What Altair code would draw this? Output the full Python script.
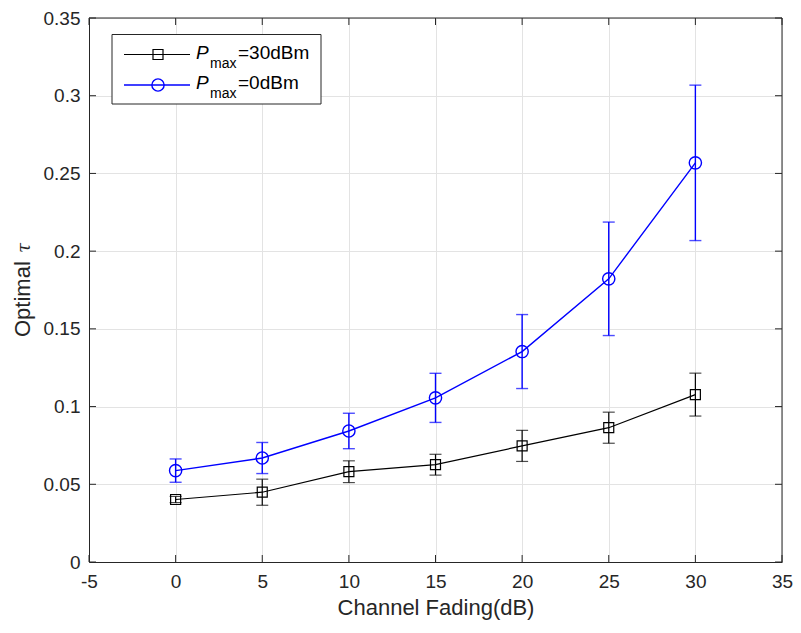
import altair as alt
import pandas as pd

# ---- data ----
fading_db = [0, 5, 10, 15, 20, 25, 30]
tau_30dbm = [0.0402, 0.0449, 0.0581, 0.0626, 0.0747, 0.0864, 0.1077]
err_30dbm = [0.002, 0.0084, 0.0070, 0.0067, 0.0100, 0.0100, 0.0138]
tau_0dbm = [0.0588, 0.0669, 0.0843, 0.1056, 0.1354, 0.1822, 0.2568]
err_0dbm = [0.0075, 0.0100, 0.0114, 0.0158, 0.0238, 0.0365, 0.0500]

x_ticks = [-5, 0, 5, 10, 15, 20, 25, 30, 35]
y_ticks = [0, 0.05, 0.1, 0.15, 0.2, 0.25, 0.3, 0.35]

W, H = 693, 544
FONT = "Liberation Sans"
AX = "#262626"

xs = alt.Scale(domain=[-5, 35], nice=False, zero=False)
ys = alt.Scale(domain=[0, 0.35], nice=False, zero=False)


def series_df(vals, errs):
    return pd.DataFrame({
        "x": fading_db,
        "y": vals,
        "lo": [v - e for v, e in zip(vals, errs)],
        "hi": [v + e for v, e in zip(vals, errs)],
    })


xaxis = alt.Axis(values=x_ticks, labelExpr="'' + datum.value", title="Channel Fading(dB)",
                 grid=True, gridColor="#e3e3e3", gridWidth=1, ticks=False, tickSize=0,
                 labelFlush=False,
                 domainColor=AX, domainWidth=1, labelColor=AX, labelFont=FONT, labelFontSize=19,
                 labelPadding=10, titleFont=FONT, titleFontSize=22, titleFontWeight="normal",
                 titleColor=AX, titlePadding=6)
yaxis = alt.Axis(values=y_ticks, format=".2~f", title=None,
                 grid=True, gridColor="#e3e3e3", gridWidth=1, ticks=False, tickSize=0,
                 domainColor=AX, domainWidth=1, labelColor=AX, labelFont=FONT, labelFontSize=19,
                 labelPadding=9)

layers = []

# frame top/right and inside ticks
tick_x_df = pd.DataFrame({"t": x_ticks})
tick_y_df = pd.DataFrame({"t": y_ticks})
base_x = alt.Chart(tick_x_df)
base_y = alt.Chart(tick_y_df)
layers.append(base_x.mark_rule(color=AX, strokeWidth=1).encode(
    x=alt.X("t:Q", scale=xs, axis=xaxis), y=alt.value(H), y2=alt.value(H - 7)))
layers.append(base_x.mark_rule(color=AX, strokeWidth=1).encode(
    x=alt.X("t:Q", scale=xs), y=alt.value(0), y2=alt.value(7)))
layers.append(base_y.mark_rule(color=AX, strokeWidth=1).encode(
    y=alt.Y("t:Q", scale=ys, axis=yaxis), x=alt.value(0), x2=alt.value(7)))
layers.append(base_y.mark_rule(color=AX, strokeWidth=1).encode(
    y=alt.Y("t:Q", scale=ys), x=alt.value(W), x2=alt.value(W - 7)))

one = pd.DataFrame({"a": [0]})
layers.append(alt.Chart(one).mark_rule(color=AX, strokeWidth=1).encode(
    x=alt.value(0), x2=alt.value(W), y=alt.value(0)))
layers.append(alt.Chart(one).mark_rule(color=AX, strokeWidth=1).encode(
    x=alt.value(W), y=alt.value(0), y2=alt.value(H)))

specs = [
    (series_df(tau_30dbm, err_30dbm), "#000000", "square", 100, 1.2),
    (series_df(tau_0dbm, err_0dbm), "#0000ff", "circle", 150, 1.4),
]
for df, col, shape, size, sw in specs:
    b = alt.Chart(df)
    layers.append(b.mark_rule(color=col, strokeWidth=sw).encode(
        x=alt.X("x:Q", scale=xs), y=alt.Y("lo:Q", scale=ys), y2="hi:Q"))
    layers.append(b.mark_tick(color=col, orient="horizontal", size=12, thickness=sw).encode(
        x=alt.X("x:Q", scale=xs), y=alt.Y("lo:Q", scale=ys)))
    layers.append(b.mark_tick(color=col, orient="horizontal", size=12, thickness=sw).encode(
        x=alt.X("x:Q", scale=xs), y=alt.Y("hi:Q", scale=ys)))
    layers.append(b.mark_line(color=col, strokeWidth=sw).encode(
        x=alt.X("x:Q", scale=xs), y=alt.Y("y:Q", scale=ys)))
    layers.append(b.mark_point(color=col, shape=shape, size=size, filled=False,
                               strokeWidth=sw, opacity=1).encode(
        x=alt.X("x:Q", scale=xs), y=alt.Y("y:Q", scale=ys)))

# legend
layers.append(alt.Chart(one).mark_rect(fill="white", stroke=AX, strokeWidth=1).encode(
    x=alt.value(23), x2=alt.value(232), y=alt.value(16.5), y2=alt.value(86)))
legend_rows = [
    ("#000000", "square", 100, 1.2, 36.5, "=30dBm"),
    ("#0000ff", "circle", 150, 1.4, 67, "=0dBm"),
]
for col, shape, size, sw, ry, label in legend_rows:
    c = alt.Chart(one)
    layers.append(c.mark_rule(color=col, strokeWidth=sw).encode(
        x=alt.value(35), x2=alt.value(101), y=alt.value(ry)))
    layers.append(c.mark_point(color=col, shape=shape, size=size, filled=False,
                               strokeWidth=sw, opacity=1).encode(
        x=alt.value(69), y=alt.value(ry)))
    layers.append(c.mark_text(font=FONT, fontSize=19, fontStyle="italic", color="#000000",
                              align="left", baseline="alphabetic").encode(
        x=alt.value(107), y=alt.value(ry + 4), text=alt.value("P")))
    layers.append(c.mark_text(font=FONT, fontSize=14, color="#000000",
                              align="left", baseline="alphabetic").encode(
        x=alt.value(121), y=alt.value(ry + 13), text=alt.value("max")))
    layers.append(c.mark_text(font=FONT, fontSize=19, color="#000000",
                              align="left", baseline="alphabetic").encode(
        x=alt.value(149), y=alt.value(ry + 4), text=alt.value(label)))

# y-axis title "Optimal τ" with italic tau
layers.append(alt.Chart(one).mark_text(font=FONT, fontSize=22, color=AX, angle=270,
                                       align="left", baseline="middle").encode(
    x=alt.value(-66), y=alt.value(319), text=alt.value("Optimal")))
layers.append(alt.Chart(one).mark_text(font="DejaVu Serif", fontSize=18, fontStyle="italic",
                                       color=AX, angle=270, align="left", baseline="middle").encode(
    x=alt.value(-64), y=alt.value(235), text=alt.value("τ")))

chart = alt.layer(*layers).properties(
    width=W, height=H,
    autosize=alt.AutoSizeParams(type="none"),
    padding={"left": 81, "top": 10, "right": 11, "bottom": 61},
).configure_view(stroke=None).configure(background="white")

chart.save("out.html", embed_options={"renderer": "svg", "actions": False})
